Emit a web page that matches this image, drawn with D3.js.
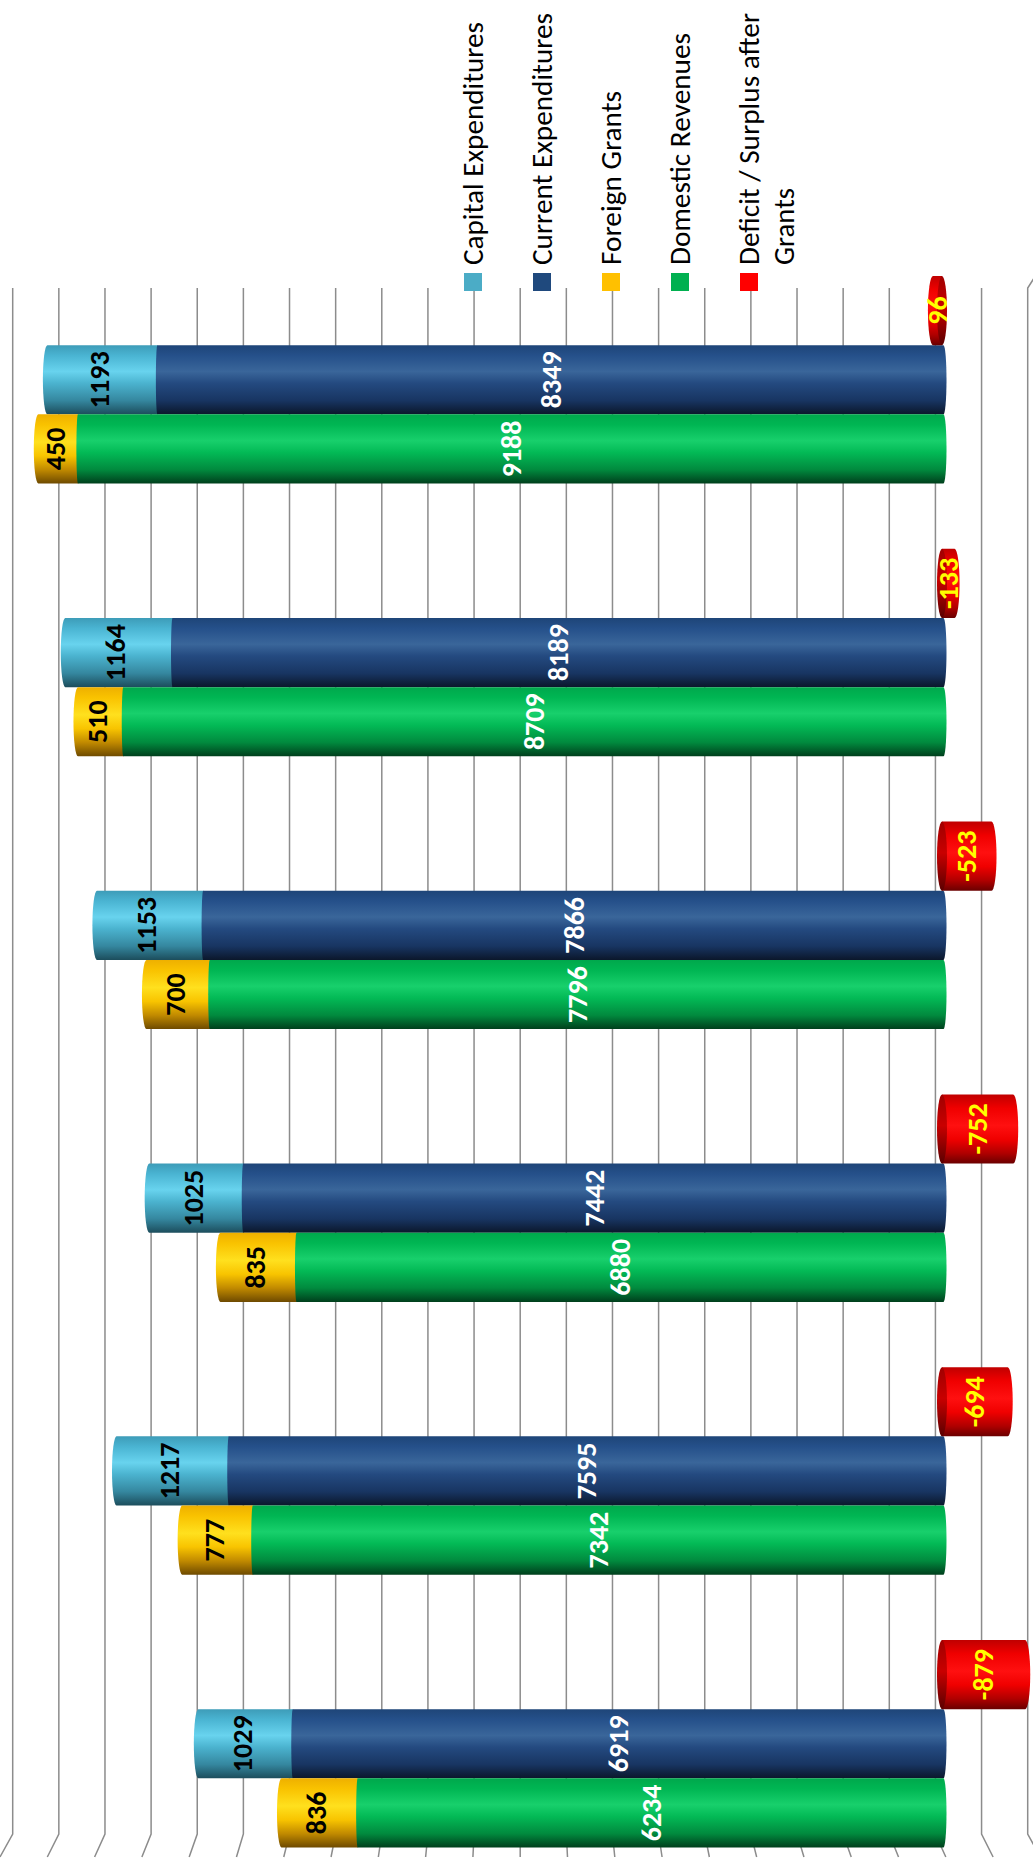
<!DOCTYPE html>
<html>
<head>
<meta charset="utf-8">
<script src="https://cdn.jsdelivr.net/npm/d3@7"></script>
<style>
  body { margin: 0; background: #fff; }
  svg { display: block; }
</style>
</head>
<body>
<script>
// categories run from the bottom of the picture to the top
const categories = ["C1", "C2", "C3", "C4", "C5", "C6"]
const capitalExp    = [1029, 1217, 1025, 1153, 1164, 1193]
const currentExp    = [6919, 7595, 7442, 7866, 8189, 8349]
const foreignGrants = [836, 777, 835, 700, 510, 450]
const domesticRev   = [6234, 7342, 6880, 7796, 8709, 9188]
const deficit       = [-879, -694, -752, -523, -133, 96]

const legendLabels = ["Capital Expenditures", "Current Expenditures", "Foreign Grants",
                      "Domestic Revenues", ["Deficit / Surplus after", "Grants"]]
const gridValues = d3.range(-1000, 10001, 500)

let width = 1033
let height = 1865

let svg = d3.select("body").append("svg")
          .attr("width", width)
          .attr("height", height)

let defs = svg.append("defs")

function gradient(id, stops) {
  let g = defs.append("linearGradient")
            .attr("id", id)
            .attr("x1", 0).attr("y1", 0).attr("x2", 0).attr("y2", 1)
  stops.forEach(function(s) {
    g.append("stop").attr("offset", s[0]).attr("stop-color", s[1])
  })
}

gradient("g-current", [[0, "#1e4578"], [0.15, "#25508a"], [0.38, "#3a669a"], [0.55, "#244a80"], [0.8, "#183562"], [1, "#0b172b"]])
gradient("g-capital", [[0, "#3d9cb8"], [0.15, "#4ab4d2"], [0.38, "#68d3ee"], [0.55, "#4bb3cf"], [0.8, "#35879f"], [1, "#1c4d5c"]])
gradient("g-domestic", [[0, "#00a84c"], [0.15, "#00b653"], [0.38, "#18d06c"], [0.55, "#03ba56"], [0.8, "#018a3e"], [1, "#003f1c"]])
gradient("g-foreign", [[0, "#eeb000"], [0.15, "#f9c200"], [0.4, "#ffe01e"], [0.6, "#f8c400"], [0.8, "#c18a00"], [1, "#6e4a00"]])
gradient("g-red", [[0, "#c00000"], [0.2, "#f00000"], [0.45, "#ff1010"], [0.65, "#f00000"], [0.85, "#b00000"], [1, "#6a0000"]])
gradient("g-redface", [[0, "#a00000"], [0.45, "#c80000"], [1, "#5a0000"]])

// back wall grid (value axis runs right to left)
let gridX = d3.scaleLinear().domain([-1000, 10000]).range([1027.7, 12.7])
let gridTop = 288, gridBend = 1834, gridBottom = 1857

svg.append("g").selectAll("path")
  .data(gridValues)
  .enter()
  .append("path")
  .attr("d", function(d) {
    let x = gridX(d)
    let fx = 520 + (x - 520) * 1.025
    let start = d === -1000 ? "M" + (x + 9) + "," + (gridTop - 14) + "L" + x + "," + gridTop : "M" + x + "," + gridTop
    return start + "L" + x + "," + gridBend + "L" + fx + "," + gridBottom
  })
  .attr("fill", "none")
  .attr("stroke", "#8c8c8c")
  .attr("stroke-width", 1.5)

// bars
let yPos = d3.scalePoint().domain(categories).range([1640, 276])
let slot = d3.scaleBand().domain(["deficit", "exp", "rev"]).range([0, 207.5])
let bw = slot.bandwidth()

let xVal = d3.scaleLinear().domain([0, 10000]).range([946.5, -0.5])
let xRed = d3.scaleLinear().domain([0, 10000]).range([942, -5])

// xl / xr are the middle points of the two ends, rl / rr how far each end bulges out
function cylPath(xl, xr, y0, h, rl, rr) {
  let r = h / 2
  return "M" + (xl + rl) + "," + y0 +
         "L" + (xr - rr) + "," + y0 +
         (rr > 0 ? "A" + rr + "," + r + " 0 0 1 " + (xr - rr) + "," + (y0 + h) : "L" + xr + "," + y0 + "L" + xr + "," + (y0 + h)) +
         "L" + (xl + rl) + "," + (y0 + h) +
         (rl > 0 ? "A" + rl + "," + r + " 0 0 1 " + (xl + rl) + "," + y0 : "L" + xl + "," + (y0 + h) + "L" + xl + "," + y0) +
         "Z"
}

let bars = svg.append("g")
let labels = []

categories.forEach(function(c, i) {
  let top = yPos(c)

  let stacks = [
    {y: top + slot("exp"), base: currentExp[i], upper: capitalExp[i], gb: "g-current", gu: "g-capital", cb: "#fff", cu: "#000"},
    {y: top + slot("rev"), base: domesticRev[i], upper: foreignGrants[i], gb: "g-domestic", gu: "g-foreign", cb: "#fff", cu: "#000"}
  ]

  stacks.forEach(function(s) {
    let total = s.base + s.upper
    // upper segment first, the base segment is drawn over its lower end
    bars.append("path")
      .attr("d", cylPath(xVal(total), xVal(s.base) + 2, s.y, bw, 4.5, 0))
      .attr("fill", "url(#" + s.gu + ")")
    bars.append("path")
      .attr("d", cylPath(xVal(s.base), xVal(0), s.y, bw, 1.5, 3))
      .attr("fill", "url(#" + s.gb + ")")
    labels.push({x: (xVal(0) + xVal(s.base)) / 2, y: s.y + bw / 2, t: s.base, c: s.cb})
    labels.push({x: (xVal(s.base) + xVal(total)) / 2, y: s.y + bw / 2, t: s.upper, c: s.cu})
  })

  let v = deficit[i]
  let ry = top + slot("deficit")
  let x0 = xRed(0), x1 = xRed(v)
  let lx, rx
  if (v < 0) {
    bars.append("path").attr("d", cylPath(x0, x1 + 5, ry, bw, 0, 5)).attr("fill", "url(#g-red)")
    lx = x0 - 5; rx = x1 + 5
  } else {
    bars.append("path").attr("d", cylPath(x1 - 5, x0, ry, bw, 5, 0)).attr("fill", "url(#g-red)")
    lx = x1 - 5; rx = x0 + 5
  }
  bars.append("ellipse")
    .attr("cx", x0).attr("cy", ry + bw / 2)
    .attr("rx", 5).attr("ry", bw / 2)
    .attr("fill", "url(#g-redface)")
  labels.push({x: (lx + rx) / 2, y: ry + bw / 2, t: v, c: "#ffff00"})
})

svg.append("g").selectAll("text")
  .data(labels)
  .enter()
  .append("text")
  .attr("transform", function(d) { return "translate(" + d.x + "," + d.y + ") rotate(-90)" })
  .attr("text-anchor", "middle")
  .attr("dominant-baseline", "central")
  .attr("font-family", "Carlito, Calibri, Lato, sans-serif")
  .attr("font-weight", "bold")
  .attr("font-size", 28)
  .attr("fill", function(d) { return d.c })
  .text(function(d) { return d.t })

// legend
let legendColors = ["#4bacc6", "#1f497d", "#ffc000", "#00b050", "#ff0000"]
let legendLengths = [[243], [252], [174], [232], [252, 77]]
let legendX = d3.scalePoint().domain(d3.range(5)).range([473, 749])

let legend = svg.append("g")
legendLabels.forEach(function(lab, i) {
  let cx = legendX(i)
  legend.append("rect")
    .attr("x", cx - 9).attr("y", 273)
    .attr("width", 18).attr("height", 18)
    .attr("fill", legendColors[i])
  let lines = Array.isArray(lab) ? lab : [lab]
  lines.forEach(function(t, j) {
    legend.append("text")
      .attr("transform", "translate(" + (cx + 10 + j * 35) + ",265) rotate(-90)")
      .attr("font-family", "Carlito, Calibri, Lato, sans-serif")
      .attr("font-size", 29)
      .attr("fill", "#000")
      .attr("textLength", legendLengths[i][j])
      .attr("lengthAdjust", "spacingAndGlyphs")
      .text(t)
  })
})
</script>
</body>
</html>
